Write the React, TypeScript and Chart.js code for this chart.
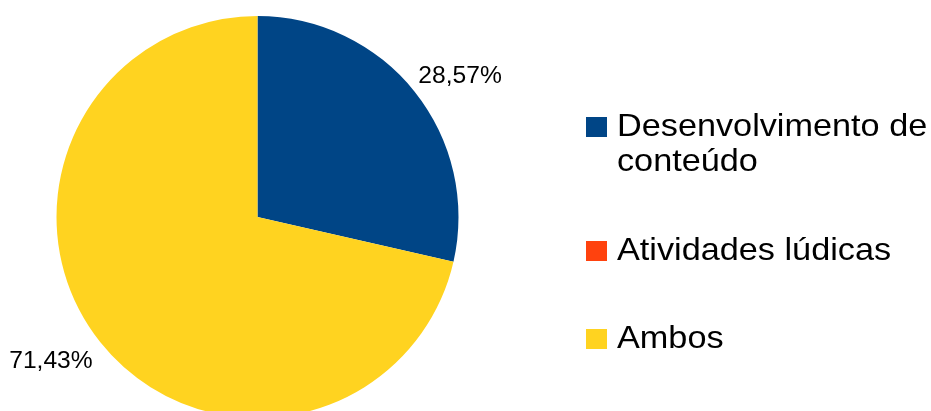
import React, { useEffect, useRef } from "react";
import { Chart, registerables } from "chart.js";

Chart.register(...registerables);

const categories = ["Desenvolvimento de conteúdo", "Atividades lúdicas", "Ambos"];
const values = [28.57, 0, 71.43];
const valueLabels = ["28,57%", "", "71,43%"];
const colors = ["#004586", "#ff420e", "#ffd320"];

const FONT = "'Liberation Sans', Arial, sans-serif";
const STRETCH = 1.07;

function stretchedText(ctx: any, txt: string, x: number, y: number, align: "left" | "right") {
  ctx.save();
  ctx.translate(x, y);
  ctx.scale(STRETCH, 1);
  ctx.textAlign = align;
  ctx.fillText(txt, 0, 0);
  ctx.restore();
}

const labelsPlugin = {
  id: "sliceLabels",
  afterDatasetsDraw(chart: any) {
    const ctx = chart.ctx;
    const meta = chart.getDatasetMeta(0);
    ctx.save();
    ctx.font = `23px ${FONT}`;
    ctx.fillStyle = "#000";
    ctx.textBaseline = "alphabetic";
    meta.data.forEach((arc: any, i: number) => {
      const txt = valueLabels[i];
      if (!txt) return;
      const mid = (arc.startAngle + arc.endAngle) / 2;
      const r = arc.outerRadius + 6;
      const x = arc.x + Math.cos(mid) * r;
      const y = arc.y + Math.sin(mid) * r;
      const right = Math.cos(mid) >= 0;
      const top = Math.sin(mid) < 0;
      stretchedText(ctx, txt, right ? x - 1 : x - 3, top ? y - 5 : y + 22, right ? "left" : "right");
    });
    ctx.restore();
  },
};

const legendPlugin = {
  id: "sideLegend",
  afterDraw(chart: any) {
    const ctx = chart.ctx;
    ctx.save();
    ctx.font = `32px ${FONT}`;
    ctx.textBaseline = "alphabetic";
    const boxX = 586;
    const textX = 617;
    const maxW = (931 - textX) / STRETCH;
    const baselines = [136, 260, 348];
    categories.forEach((cat, i) => {
      const words = cat.split(" ");
      const lines: string[] = [];
      let cur = "";
      words.forEach((w) => {
        const t = cur ? cur + " " + w : w;
        if (ctx.measureText(t).width > maxW && cur) {
          lines.push(cur);
          cur = w;
        } else cur = t;
      });
      if (cur) lines.push(cur);
      const b = baselines[i];
      ctx.fillStyle = colors[i];
      ctx.fillRect(boxX, b - 19, 21, 20);
      ctx.fillStyle = "#000";
      lines.forEach((ln, j) => stretchedText(ctx, ln, textX, b + j * 35, "left"));
    });
    ctx.restore();
  },
};

export default function App() {
  const ref = useRef<HTMLCanvasElement>(null);
  useEffect(() => {
    if (!ref.current) return;
    const chart = new Chart(ref.current, {
      type: "pie",
      data: {
        labels: categories,
        datasets: [
          {
            data: values,
            backgroundColor: colors,
            borderWidth: 0,
          },
        ],
      },
      options: {
        responsive: false,
        animation: false,
        layout: { padding: { left: 56, right: 472, top: 16, bottom: 22 } },
        plugins: { legend: { display: false }, tooltip: { enabled: false } },
      },
      plugins: [labelsPlugin, legendPlugin],
    });
    return () => chart.destroy();
  }, []);
  return (
    <div style={{ position: "fixed", left: 0, top: 0, width: 931, height: 440, background: "#fff" }}>
      <canvas ref={ref} width={931} height={440} style={{ width: 931, height: 440, display: "block" }} />
    </div>
  );
}
